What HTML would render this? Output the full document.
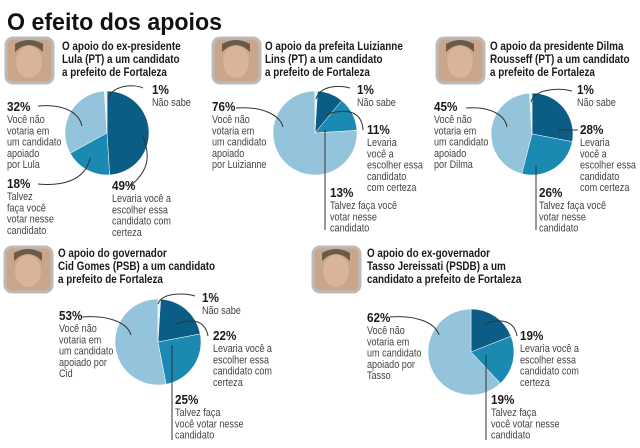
<!DOCTYPE html>
<html><head><meta charset="utf-8"><style>
html,body{margin:0;padding:0;background:#fff}
svg{display:block}
text{font-family:"Liberation Sans",sans-serif}
.h{font-weight:bold;font-size:11.5px;fill:#1a1a1a}
.p{font-weight:bold;font-size:13px;fill:#1a1a1a}
.l{font-size:10.8px;fill:#444}
</style></head><body>
<svg id="chart" width="640" height="448" viewBox="0 0 640 448" xmlns="http://www.w3.org/2000/svg">
<text x="7" y="30" font-size="24" font-weight="900" fill="#111" textLength="215" lengthAdjust="spacingAndGlyphs">O efeito dos apoios</text>
<g id="root"></g>
</svg>
<script>
// values per chart: [levaria (certeza), talvez, nao votaria, nao sabe]
const chartNames = ["lula","luizianne","dilma","cid","tasso"];
const levariaValues = [49, 11, 28, 22, 19];
const talvezValues = [18, 13, 26, 25, 19];
const naoVotariaValues = [32, 76, 45, 53, 62];
const naoSabeValues = [1, 1, 1, 1, 0];

const layout = [
 {cx:107,cy:133,r:42,photo:[6,38],head:[62,50],title:["O apoio do ex-presidente","Lula (PT) a um candidato","a prefeito de Fortaleza"],
  nv:[7,111,["Você não","votaria em","um candidato","apoiado","por Lula"]],
  ns:[152,94],lv:[112,190,["Levaria você a","escolher essa","candidato com","certeza"]],
  tz:[7,188,["Talvez","faça você","votar nesse","candidato"]],
  arrows:["M38,106 C60,104 78,110 82,126","M143,88 C135,84 112,84 108,100","M130,186 C150,170 150,155 143,136","M38,184 C60,186 85,182 90,158"]},
 {cx:315,cy:133,r:42,photo:[213,38],head:[265,50],title:["O apoio da prefeita Luizianne","Lins (PT) a um candidato","a prefeito de Fortaleza"],
  nv:[212,111,["Você não","votaria em","um candidato","apoiado","por Luizianne"]],
  ns:[357,94],lv:[367,134,["Levaria","você a","escolher essa","candidato","com certeza"]],
  tz:[330,197,["Talvez faça você","votar nesse","candidato"]],
  arrows:["M236,108 C262,106 280,115 283,127","M350,88 C340,85 320,85 316,99","M363,130 C362,110 345,108 325,115","M325,230 L325,130"]},
 {cx:532,cy:134,r:41,photo:[437,38],head:[490,50],title:["O apoio da presidente  Dilma","Rousseff (PT) a um candidato","a prefeito de Fortaleza"],
  nv:[434,111,["Você não","votaria em","um candidato","apoiado","por Dilma"]],
  ns:[577,94],lv:[580,134,["Levaria","você a","escolher essa","candidato","com certeza"]],
  tz:[539,197,["Talvez faça você","votar nesse","candidato"]],
  arrows:["M466,108 C490,106 505,115 507,127","M572,91 C560,88 535,88 531,102","M578,130 L558,130","M536,230 L536,165"]},
 {cx:158,cy:342,r:43,photo:[5,247],head:[58,257],title:["O apoio do governador","Cid Gomes (PSB) a um candidato","a prefeito de Fortaleza"],
  nv:[59,320,["Você não","votaria em","um candidato","apoiado por","Cid"]],
  ns:[202,302],lv:[213,340,["Levaria você a","escolher essa","candidato com","certeza"]],
  tz:[175,404,["Talvez faça","você votar nesse","candidato"]],
  arrows:["M82,317 C108,315 127,322 131,335","M195,296 C185,293 162,292 158,304","M208,336 C205,320 192,318 176,324","M172,440 L172,345"]},
 {cx:471,cy:352,r:43,photo:[313,247],head:[367,257],title:["O apoio do ex-governador","Tasso Jereissati (PSDB) a um","candidato a prefeito de Fortaleza"],
  nv:[367,322,["Você não","votaria em","um candidato","apoiado por","Tasso"]],
  ns:null,lv:[520,340,["Levaria você a","escolher essa","candidato com","certeza"]],
  tz:[491,404,["Talvez faça","você votar nesse","candidato"]],
  arrows:["M390,317 C415,315 435,322 439,335","M517,336 C514,320 500,318 485,324","M486,440 L486,355"]}
];
const colors = ["#0b5d86","#1a8ab3","#93c4dc","#dff0f7"];
const squeeze = {h:0.86,p:0.9,l:0.84};
const NS="http://www.w3.org/2000/svg";
const root=document.getElementById('root');
function mk(tag,attrs,parent){const e=document.createElementNS(NS,tag);for(const k in attrs)e.setAttribute(k,attrs[k]);(parent||root).appendChild(e);return e;}
function angleScale(v){return v/100*2*Math.PI;}
function pt(cx,cy,r,a){return [cx+r*Math.sin(a),cy-r*Math.cos(a)];}
function lines(g,x,y,arr,cls,name){
  const t=mk('text',{x:0,y:y,class:cls,transform:`translate(${x},0) scale(${squeeze[cls]},1)`},g);
  
  
  arr.forEach((s,i)=>{const ts=mk('tspan',{x:0,dy:i?(cls==='h'?13:11.3):0},t);ts.textContent=s;});
}
const segNames=["levaria-slice","talvez-slice","nao-votaria-slice","nao-sabe-slice"];
chartNames.forEach((name,i)=>{
  const L=layout[i];
  const g=mk('g',{});
  
  
  const ph=mk('rect',{x:L.photo[0],y:L.photo[1],width:47,height:45,rx:7,fill:'#c9a58a',stroke:'#bbb','stroke-width':3},g);
  
  
  mk('ellipse',{cx:L.photo[0]+23,cy:L.photo[1]+24,rx:13,ry:16,fill:'#d9b49a'},g);
  mk('path',{d:`M${L.photo[0]+9},${L.photo[1]+14} q14,-14 28,0 l0,-8 q-14,-8 -28,0z`,fill:'#6a5a4a'},g);
  lines(g,L.head[0],L.head[1],L.title,'h','panel-title-'+name);
  const vals=[levariaValues[i],talvezValues[i],naoVotariaValues[i],naoSabeValues[i]];
  let a0=0;
  vals.forEach((v,j)=>{
    if(v<=0)return;
    const a1=a0+angleScale(v);
    const p0=pt(L.cx,L.cy,L.r,a0),p1=pt(L.cx,L.cy,L.r,a1);
    const large=(a1-a0)>Math.PI?1:0;
    const s=mk('path',{d:`M${L.cx},${L.cy} L${p0[0]},${p0[1]} A${L.r},${L.r} 0 ${large} 1 ${p1[0]},${p1[1]} Z`,fill:colors[j],stroke:'#fff','stroke-width':0.5},g);
    
    
    a0=a1;
  });
  L.arrows.forEach(d=>{
    const a=mk('path',{d:d,fill:'none',stroke:'#333','stroke-width':1},g);
    
    
  });
  lines(g,L.nv[0],L.nv[1],[naoVotariaValues[i]+'%'],'p','nao-votaria-value-'+name);
  lines(g,L.nv[0],L.nv[1]+12,L.nv[2],'l','nao-votaria-label-'+name);
  if(L.ns){
    lines(g,L.ns[0],L.ns[1],[naoSabeValues[i]+'%'],'p','nao-sabe-value-'+name);
    lines(g,L.ns[0],L.ns[1]+12,['Não sabe'],'l','nao-sabe-label-'+name);
  }
  lines(g,L.lv[0],L.lv[1],[levariaValues[i]+'%'],'p','levaria-value-'+name);
  lines(g,L.lv[0],L.lv[1]+12,L.lv[2],'l','levaria-label-'+name);
  lines(g,L.tz[0],L.tz[1],[talvezValues[i]+'%'],'p','talvez-value-'+name);
  lines(g,L.tz[0],L.tz[1]+12,L.tz[2],'l','talvez-label-'+name);
});
</script>
</body></html>
